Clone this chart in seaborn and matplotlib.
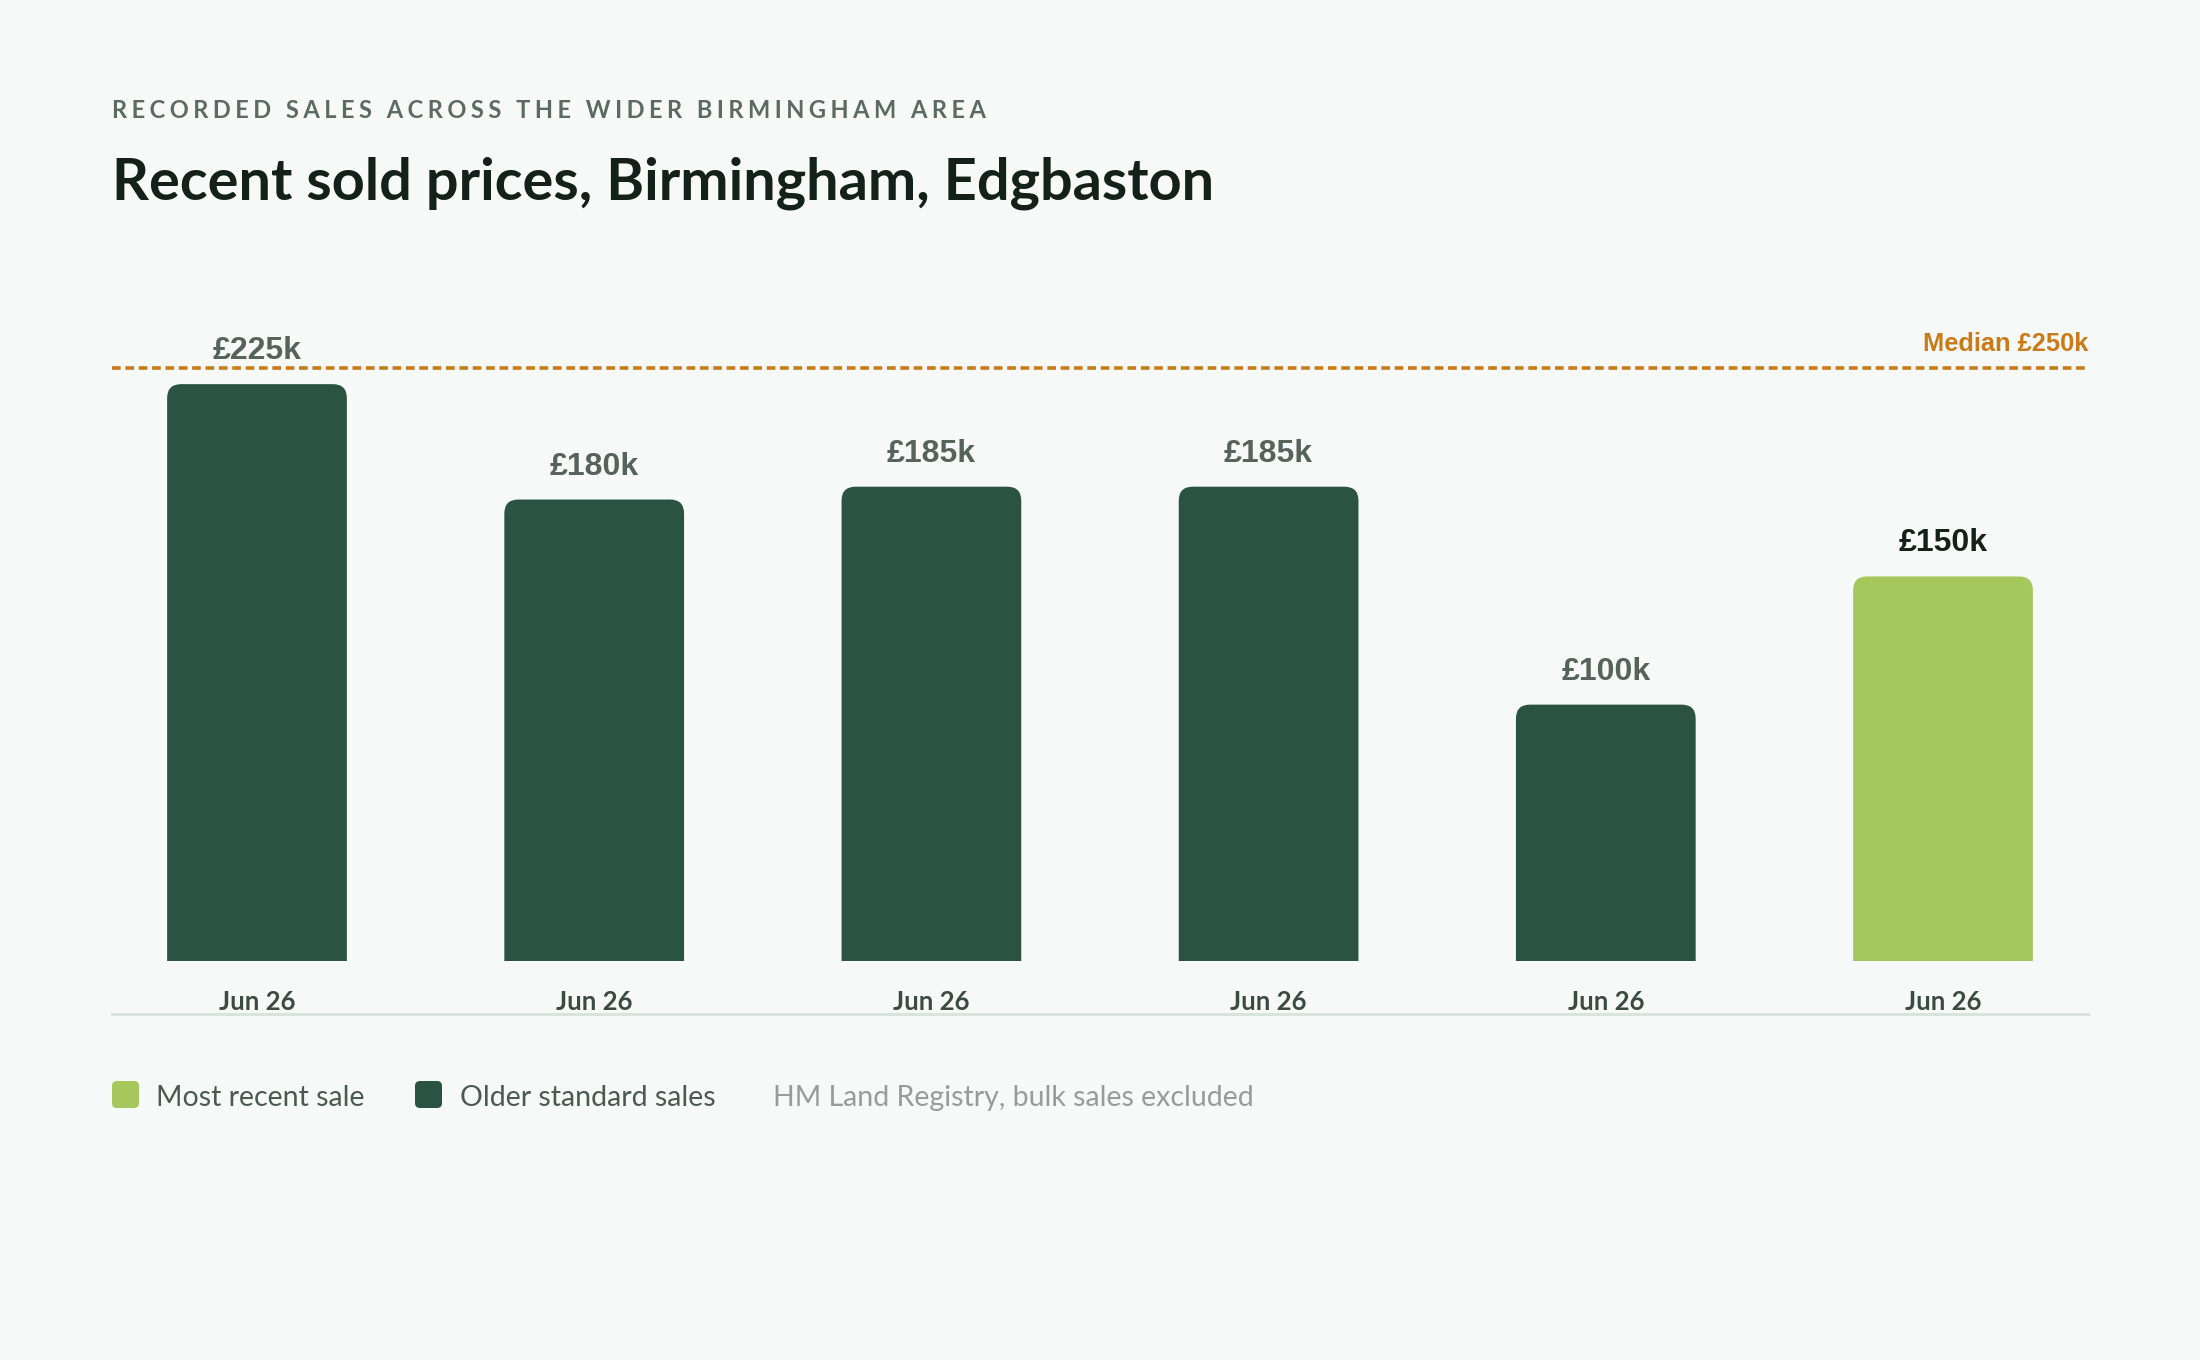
import numpy as np
import pandas as pd
import matplotlib
matplotlib.use("Agg")
import matplotlib.pyplot as plt
import seaborn as sns
from matplotlib.patches import FancyBboxPatch

# data
sale_dates = ["Jun 26", "Jun 26", "Jun 26", "Jun 26", "Jun 26", "Jun 26"]
prices_k = [225, 180, 185, 185, 100, 150]
sale_kind = ["Older standard sales", "Older standard sales", "Older standard sales",
             "Older standard sales", "Older standard sales", "Most recent sale"]
median_k = 250
legend_labels = ["Most recent sale", "Older standard sales"]
source_note = "HM Land Registry, bulk sales excluded"
kicker = "RECORDED SALES ACROSS THE WIDER BIRMINGHAM AREA"
title = "Recent sold prices, Birmingham, Edgbaston"

# colours
BG = "#f7f9f8"
DARK = "#2a5343"
LIGHT = "#a6c75b"
ORANGE = "#c97b17"
INK = "#14201a"
MUTED = "#56635b"
palette = {"Older standard sales": DARK, "Most recent sale": LIGHT}

sns.set_theme(style="white")
plt.rcParams['font.family'] = ['Lato', 'DejaVu Sans']

W, H = 2200, 1360
fig = plt.figure(figsize=(22, 13.6), dpi=100, facecolor=BG)
ax = fig.add_axes([112 / W, (H - 961) / H, (2088 - 112) / W, (961 - 368) / H])
ax.set_facecolor(BG)

df = pd.DataFrame({"sale": np.arange(len(prices_k)), "date": sale_dates,
                   "price": prices_k, "kind": sale_kind})
sns.barplot(data=df, x="sale", y="price", hue="kind", palette=palette, dodge=False,
            width=0.533, saturation=1, legend=False, ax=ax)

ymax = max(prices_k) * 1.028
ax.set_xlim(-0.43, len(prices_k) - 0.57)
ax.set_ylim(0, ymax)

# rounded tops on the bars: the rounded box starts below zero, the axes clip its bottom
px_x = ax.transData.transform((1, 0))[0] - ax.transData.transform((0, 0))[0]
px_y = ax.transData.transform((0, 1))[1] - ax.transData.transform((0, 0))[1]
r_px = 14
for p in list(ax.patches):
    x, w, h, fc = p.get_x(), p.get_width(), p.get_height(), p.get_facecolor()
    p.remove()
    if not h or np.isnan(h):
        continue
    below = 2 * r_px / px_y
    ax.add_patch(FancyBboxPatch((x, -below), w, h + below,
                                boxstyle=f"round,pad=0,rounding_size={r_px / px_x}",
                                mutation_aspect=px_x / px_y, fc=fc, ec="none"))

# value labels
for i, v in enumerate(prices_k):
    col = INK if sale_kind[i] == "Most recent sale" else MUTED
    ax.annotate(f"£{v}k", xy=(i, v), xytext=(0, 25), textcoords="offset pixels",
                ha="center", va="baseline", fontsize=23, fontweight="bold",
                family=["Liberation Sans"], color=col)

# date labels under the bars
for i, d in enumerate(sale_dates):
    ax.annotate(d, xy=(i, 0), xytext=(0, -49), textcoords="offset pixels",
                ha="center", va="baseline", fontsize=18.5, fontweight="bold", color="#3b4a42",
                annotation_clip=False)

# median line (clamped to the top of the plot)
med_y = min(median_k, ymax)
ax.axhline(med_y, color=ORANGE, lw=2.6, ls=(0, (2.4, 1.3)), clip_on=False)
ax.annotate(f"Median £{median_k}k", xy=(1, med_y), xycoords=("axes fraction", "data"),
            xytext=(0, 17), textcoords="offset pixels", ha="right", va="baseline",
            fontsize=18.3, fontweight="bold", family=["Liberation Sans"], color=ORANGE)

sns.despine(ax=ax, left=True)
ax.spines["bottom"].set_position(("outward", 53 * 0.72))
ax.spines["bottom"].set_color("#d9e3de")
ax.spines["bottom"].set_linewidth(2.2)
ax.set_xticks([])
ax.set_yticks([])
ax.set_xlabel("")
ax.set_ylabel("")

# headings
fig.text(112 / W, 1 - 118 / H, "\u2009\u200a".join(kicker), fontsize=17, fontweight="bold",
         color="#5b6b62", va="baseline", ha="left")
fig.text(112 / W, 1 - 200 / H, title, fontsize=41.5, fontweight="bold", color=INK,
         va="baseline", ha="left")

# legend
lx = [112, 415]
tx = [156, 460]
for lab, x0, x1 in zip(legend_labels, lx, tx):
    fig.add_artist(FancyBboxPatch((x0 / W, 1 - 1108 / H), 27 / W, 27 / H,
                                  boxstyle=f"round,pad=0,rounding_size={5 / W}",
                                  mutation_aspect=W / H, fc=palette[lab], ec="none",
                                  transform=fig.transFigure))
    fig.text(x1 / W, 1 - 1106 / H, lab, fontsize=20.5, color="#4a5a52", va="baseline", ha="left")
fig.text(773 / W, 1 - 1106 / H, source_note, fontsize=20.5, color="#9a9a9a", va="baseline", ha="left")

fig.savefig("out.png", dpi=100, facecolor=BG)
